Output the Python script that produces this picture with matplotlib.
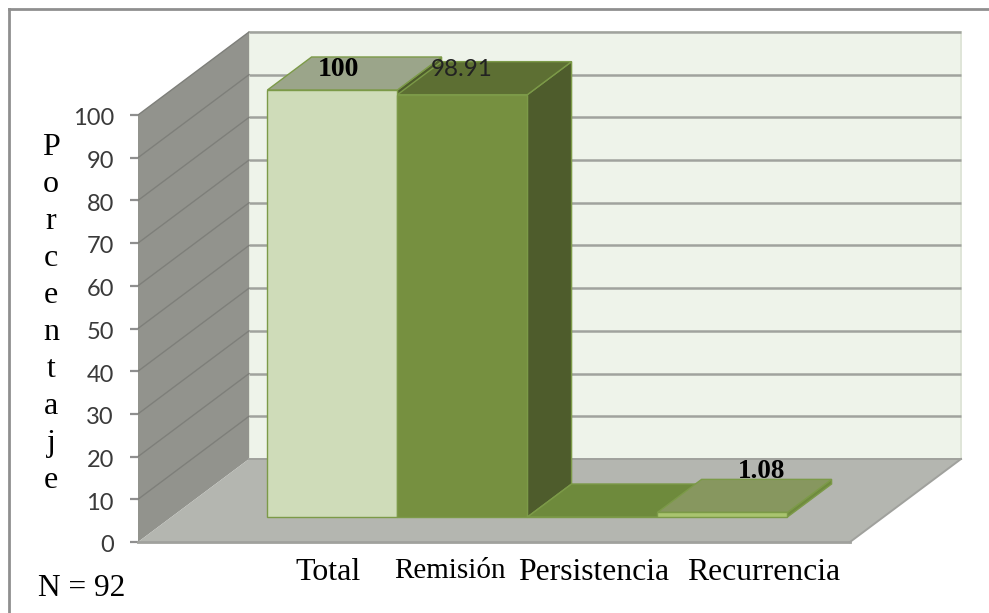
import matplotlib
matplotlib.use('Agg')
import matplotlib.pyplot as plt
from matplotlib.lines import Line2D
from matplotlib.patches import Polygon

categories = ['Total', 'Remisión', 'Persistencia', 'Recurrencia']
values = [100, 98.91, 0, 1.08]
value_labels = ['100', '98.91', '', '1.08']
y_ticks = [0, 10, 20, 30, 40, 50, 60, 70, 80, 90, 100]

front_colors = ['#cfdcb9', '#769040', '#769040', '#a9c46f']
top_colors = ['#9ba58a', '#5d6f33', '#6e8a3c', '#87975f']
side_colors = ['#4e5c2c', '#4e5c2c', '#4e5c2c', '#6f8b3e']
edge = '#7c9a48'

W, H = 989, 613
UNIT_X = 130.0   # pixels per category
UNIT_Y = 4.27    # pixels per percent
X0 = 299.0       # pixel of category 0 on the front plane
Y0 = 542.0       # pixel of value 0
DEPTH_X = 111.0 / UNIT_X
DEPTH_Y = 83.0 / UNIT_Y
WALL_L = (138 - X0) / UNIT_X
WALL_R = (850 - X0) / UNIT_X
BAR_NEAR = 0.301
BAR_FAR = 0.699


def pt(x, v, d):
    # oblique projection of (category, value, depth)
    return (x + d * DEPTH_X, v + d * DEPTH_Y)


fig = plt.figure(figsize=(W / 100, H / 100), dpi=100)
ax = fig.add_axes([0, 0, 1, 1])
ax.set_xlim(-X0 / UNIT_X, (W - X0) / UNIT_X)
ax.set_ylim((Y0 - H) / UNIT_Y, Y0 / UNIT_Y)
ax.axis('off')


def poly(points, color, ec=None, lw=0, z=1):
    ax.add_patch(Polygon(points, closed=True, facecolor=color,
                         edgecolor=ec if ec else color, linewidth=lw, zorder=z))


# frame: only the top and left lines are inside the picture
fig.add_artist(Line2D([8.5 / W, 1], [1 - 9 / H, 1 - 9 / H], color='#8f8f8f', lw=2,
                      transform=fig.transFigure))
fig.add_artist(Line2D([8.5 / W, 8.5 / W], [1 - 9 / H, 0], color='#8f8f8f', lw=2,
                      transform=fig.transFigure))

# walls and floor
poly([pt(WALL_L, 0, 1), pt(WALL_R, 0, 1), pt(WALL_R, 100, 1), pt(WALL_L, 100, 1)], '#eef3ea',
     ec='#dfe5d8', lw=1.4, z=1)
poly([pt(WALL_L, 0, 0), pt(WALL_L, 0, 1), pt(WALL_L, 100, 1), pt(WALL_L, 100, 0)], '#92938d', z=1)
poly([pt(WALL_L, 0, 0), pt(WALL_R, 0, 0), pt(WALL_R, 0, 1), pt(WALL_L, 0, 1)], '#b4b6b0', z=1)

# gridlines and ticks
for t in y_ticks:
    if t > 0:
        a, b = pt(WALL_L, t, 1), pt(WALL_R, t, 1)
        ax.plot([a[0], b[0]], [a[1], b[1]], color='#a0a29e', lw=1.8, zorder=2, solid_capstyle='butt')
        a, b = pt(WALL_L, t, 0), pt(WALL_L, t, 1)
        ax.plot([a[0], b[0]], [a[1], b[1]], color='#7e7f7a', lw=1.0, zorder=2)
    a = pt(WALL_L, t, 0)
    ax.plot([a[0] - 8 / UNIT_X, a[0]], [t, t], color='#8f8f8f', lw=1.6, zorder=2, solid_capstyle='butt')
    ax.text(a[0] - 24 / UNIT_X, t - 0.9, str(t), ha='right', va='center', family='Lato',
            fontsize=17, color='#3a3a3a', zorder=6)

# floor edges
a, b = pt(WALL_L, 0, 0), pt(WALL_R, 0, 0)
ax.plot([a[0], b[0]], [0, 0], color='#a0a19d', lw=2, zorder=2)
a, b = pt(WALL_R, 0, 0), pt(WALL_R, 0, 1)
ax.plot([a[0], b[0]], [a[1], b[1]], color='#a0a19d', lw=1.4, zorder=2)
a, b = pt(WALL_L, 0, 1), pt(WALL_R, 0, 1)
ax.plot([a[0], b[0]], [a[1], b[1]], color='#a0a19d', lw=1.4, zorder=2)

# bars: sides first, then tops from lowest to highest, then fronts
for i, v in enumerate(values):
    r = i + 0.5
    poly([pt(r, 0, BAR_NEAR), pt(r, 0, BAR_FAR), pt(r, v, BAR_FAR), pt(r, v, BAR_NEAR)],
         side_colors[i], ec=edge, lw=1, z=3)
order = sorted(range(len(values)), key=lambda k: values[k])
for n, i in enumerate(order):
    l, r = i - 0.5, i + 0.5
    v = values[i]
    poly([pt(l, v, BAR_NEAR), pt(r, v, BAR_NEAR), pt(r, v, BAR_FAR), pt(l, v, BAR_FAR)],
         top_colors[i], ec=edge, lw=1, z=4 + n * 0.01)
for i, v in enumerate(values):
    l, r = i - 0.5, i + 0.5
    poly([pt(l, 0, BAR_NEAR), pt(r, 0, BAR_NEAR), pt(r, v, BAR_NEAR), pt(l, v, BAR_NEAR)],
         front_colors[i], ec=edge, lw=1, z=5)


def label(x, y, s, **kw):
    # text placed at reference pixel position
    kw.setdefault('family', 'Liberation Serif')
    kw.setdefault('ha', 'center')
    kw.setdefault('va', 'center')
    kw.setdefault('color', 'black')
    fig.text(x / W, 1 - y / H, s, zorder=10, **kw)


# value labels
label(338, 69, value_labels[0], fontsize=20, fontweight='bold')
label(462, 70, value_labels[1], fontsize=17.5, family='Lato', color='#222222')
label(762, 471, value_labels[3], fontsize=19.5, fontweight='bold')

# category labels
label(328, 572, categories[0], fontsize=23)
label(450, 571, categories[1], fontsize=21)
label(594, 572, categories[2], fontsize=22.8)
label(764, 572, categories[3], fontsize=22.8)

# axis title written letter by letter
label(51, 314, '\n'.join('Porcentaje'), fontsize=23, linespacing=1.36)
label(82, 588, 'N = 92', fontsize=22.6)

fig.savefig('out.png', dpi=100)
